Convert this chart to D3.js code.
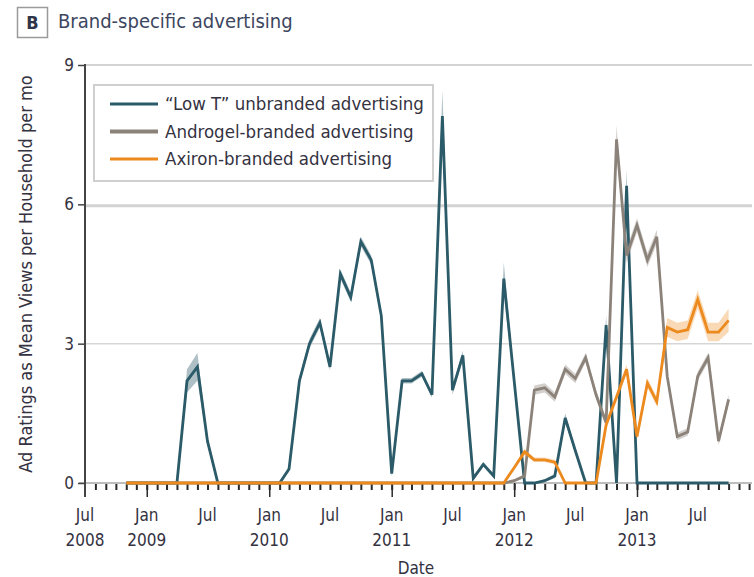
<!DOCTYPE html>
<html>
<head>
<meta charset="utf-8">
<script src="https://cdn.jsdelivr.net/npm/d3@7"></script>
<style>
  body { margin: 0; background: #fff; }
  svg text { font-family: "Liberation Sans Narrow", "DejaVu Sans Condensed", "Noto Sans", sans-serif; }
</style>
</head>
<body>
<div class="box"></div>
<script>
// months Nov 2008 .. Oct 2013 (60 points)
let months = d3.timeMonth.range(new Date(2008, 10, 1), new Date(2013, 10, 1))

// "Low T" unbranded advertising
let lowT = [
  0, 0,
  0, 0, 0, 0, 2.2, 2.5, 0.9, 0, 0, 0, 0, 0,
  0, 0, 0.3, 2.2, 3.0, 3.45, 2.5, 4.5, 4.0, 5.2, 4.8, 3.6,
  0.2, 2.2, 2.2, 2.35, 1.9, 7.9, 2.0, 2.75, 0.1, 0.4, 0.15, 4.4,
  2.2, 0, 0, 0.05, 0.15, 1.4, 0.7, 0, 0, 3.4, 0, 6.4,
  0, 0, 0, 0, 0, 0, 0, 0, 0, 0
]
let lowTci = [
  0, 0,
  0, 0, 0, 0, 0.25, 0.3, 0.08, 0, 0, 0, 0, 0,
  0, 0, 0.06, 0.08, 0.1, 0.1, 0.08, 0.1, 0.1, 0.1, 0.1, 0.1,
  0.06, 0.06, 0.06, 0.06, 0.06, 0.55, 0.1, 0.1, 0.05, 0.05, 0.05, 0.35,
  0.1, 0, 0, 0.03, 0.05, 0.1, 0.06, 0, 0, 0.2, 0, 0.35,
  0, 0, 0, 0, 0, 0, 0, 0, 0, 0
]

// Androgel-branded advertising
let androgel = [
  0, 0,
  0, 0, 0, 0, 0, 0, 0, 0, 0, 0, 0, 0,
  0, 0, 0, 0, 0, 0, 0, 0, 0, 0, 0, 0,
  0, 0, 0, 0, 0, 0, 0, 0, 0, 0, 0, 0,
  0.05, 0.15, 2.0, 2.05, 1.85, 2.45, 2.25, 2.7, 1.9, 1.3, 7.4, 4.9,
  5.55, 4.8, 5.3, 2.3, 1.0, 1.1, 2.3, 2.7, 0.9, 1.8
]
let androgelCi = [
  0, 0,
  0, 0, 0, 0, 0, 0, 0, 0, 0, 0, 0, 0,
  0, 0, 0, 0, 0, 0, 0, 0, 0, 0, 0, 0,
  0, 0, 0, 0, 0, 0, 0, 0, 0, 0, 0, 0,
  0.03, 0.05, 0.1, 0.1, 0.1, 0.1, 0.1, 0.1, 0.1, 0.1, 0.3, 0.15,
  0.15, 0.15, 0.15, 0.1, 0.08, 0.08, 0.1, 0.1, 0.08, 0.1
]

// Axiron-branded advertising
let axiron = [
  0, 0,
  0, 0, 0, 0, 0, 0, 0, 0, 0, 0, 0, 0,
  0, 0, 0, 0, 0, 0, 0, 0, 0, 0, 0, 0,
  0, 0, 0, 0, 0, 0, 0, 0, 0, 0, 0, 0,
  0.33, 0.67, 0.5, 0.5, 0.45, 0, 0, 0, 0, 1.25, 1.85, 2.45,
  1.0, 2.15, 1.75, 3.35, 3.25, 3.3, 3.95, 3.25, 3.25, 3.5
]
let axironCi = [
  0, 0,
  0, 0, 0, 0, 0, 0, 0, 0, 0, 0, 0, 0,
  0, 0, 0, 0, 0, 0, 0, 0, 0, 0, 0, 0,
  0, 0, 0, 0, 0, 0, 0, 0, 0, 0, 0, 0,
  0.04, 0.06, 0.05, 0.05, 0.05, 0, 0, 0, 0, 0.08, 0.08, 0.1,
  0.08, 0.1, 0.1, 0.2, 0.2, 0.2, 0.2, 0.2, 0.2, 0.25
]

let seriesNames = ['\u201CLow T\u201D unbranded advertising', 'Androgel-branded advertising', 'Axiron-branded advertising']
let seriesColors = ['#2b5a68', '#8b8279', '#ec8a1e']
let bandColors = ['#2b5a68', '#8b8279', '#f09a40']

let yTicks = [0, 3, 6, 9]
let xTickMonths = ['Jul', 'Jan', 'Jul', 'Jan', 'Jul', 'Jan', 'Jul', 'Jan', 'Jul', 'Jan', 'Jul']
let xTickYears = ['2008', '2009', '', '2010', '', '2011', '', '2012', '', '2013', '']

let textCol = '#34323f'

let svg = d3.select('.box').append('svg')
  .attr('width', 754)
  .attr('height', 577)

let x = d3.scaleTime()
  .domain([new Date(2008, 6, 1), new Date(2013, 0, 1)])
  .range([85, 637])
let y = d3.scaleLinear().domain([0, 9]).range([483, 65])

// title
svg.append('rect').attr('x', 17.5).attr('y', 7.5).attr('width', 30).attr('height', 30)
  .style('fill', '#fff').style('stroke', '#9a9a9a').style('stroke-width', 1.5)
svg.append('text').attr('x', 32.5).attr('y', 29).attr('text-anchor', 'middle')
  .style('font-size', '18px').style('font-weight', 'bold').style('fill', '#2f3548').text('B')
svg.append('text').attr('x', 58).attr('y', 28)
  .style('font-size', '20px').style('fill', '#3d4660').text('Brand-specific advertising')

// gridlines
let gridW = {3: 1.5, 6: 3, 9: 2}
svg.append('g').selectAll('line').data(yTicks.filter(d => d > 0)).join('line')
  .attr('x1', 85).attr('x2', 752)
  .attr('y1', d => y(d) + (d == 6 ? 1.5 : 0)).attr('y2', d => y(d) + (d == 6 ? 1.5 : 0))
  .style('stroke', d => d == 3 ? '#d6d6d6' : '#d3d3d3')
  .style('stroke-width', d => gridW[d])

// x axis baseline
svg.append('line').attr('x1', 79).attr('x2', 752).attr('y1', y(0)).attr('y2', y(0))
  .style('stroke', '#bdbdbd').style('stroke-width', 2)

// monthly ticks
let monthTicks = d3.timeMonth.range(new Date(2008, 7, 1), new Date(2014, 0, 1))
let xAxisMinor = d3.axisBottom(x).tickValues(monthTicks).tickSize(6).tickFormat('')
let gMinor = svg.append('g').attr('transform', `translate(0,${y(0) + 1})`).call(xAxisMinor)
gMinor.select('.domain').remove()
gMinor.selectAll('line').style('stroke', '#2a2a2a').style('stroke-width', 2)

// Jan ticks
let janTicks = d3.timeYear.range(new Date(2009, 0, 1), new Date(2014, 0, 1))
let xAxisMajor = d3.axisBottom(x).tickValues(janTicks).tickSize(14).tickFormat('')
let gMajor = svg.append('g').attr('transform', `translate(0,${y(0)})`).call(xAxisMajor)
gMajor.select('.domain').remove()
gMajor.selectAll('line').style('stroke', '#2a2a2a').style('stroke-width', 1.5)

// x tick labels
let labelDates = d3.timeMonth.every(6).range(new Date(2008, 6, 1), new Date(2013, 7, 1))
let xl = svg.append('g').selectAll('text').data(labelDates).join('text')
  .attr('x', d => x(d))
  .attr('y', 521)
  .attr('text-anchor', 'middle')
  .style('font-size', '17px').style('fill', textCol)
xl.append('tspan').attr('x', d => x(d)).text((d, i) => xTickMonths[i])
xl.append('tspan').attr('x', d => x(d)).attr('dy', 25).text((d, i) => xTickYears[i])

svg.append('text').attr('x', 416).attr('y', 574).attr('text-anchor', 'middle')
  .style('font-size', '17px').style('fill', textCol).text('Date')

// y axis
let yAxis = d3.axisLeft(y).tickValues(yTicks).tickSize(7).tickPadding(4)
let gy = svg.append('g').attr('transform', 'translate(85,0)').call(yAxis)
gy.select('.domain').remove()
gy.selectAll('line').style('stroke', '#444').style('stroke-width', 1.5)
gy.selectAll('text').style('font-size', '17px').style('fill', textCol)
  .style('font-family', '"Liberation Sans Narrow", "DejaVu Sans Condensed", sans-serif')
svg.append('line').attr('x1', 85).attr('x2', 85).attr('y1', y(9) - 1).attr('y2', 497)
  .style('stroke', '#444').style('stroke-width', 2)

svg.append('text')
  .attr('transform', `translate(32,${(y(0) + y(9)) / 2}) rotate(-90)`)
  .attr('text-anchor', 'middle')
  .style('font-size', '18px').style('fill', textCol)
  .text('Ad Ratings as Mean Views per Household per mo')

// series
let allSeries = [
  {vals: lowT, ci: lowTci},
  {vals: androgel, ci: androgelCi},
  {vals: axiron, ci: axironCi}
]

let area = (s) => d3.area()
  .x((d, i) => x(months[i]))
  .y0((d, i) => y(Math.max(0, d - s.ci[i])))
  .y1((d, i) => y(d + s.ci[i]))

let line = d3.line()
  .x((d, i) => x(months[i]))
  .y(d => y(d))

allSeries.forEach((s, k) => {
  svg.append('path').datum(s.vals)
    .attr('d', area(s))
    .style('fill', bandColors[k]).style('opacity', 0.38)
  svg.append('path').datum(s.vals)
    .attr('d', line)
    .style('fill', 'none')
    .style('stroke', seriesColors[k])
    .style('stroke-width', 2.8)
})

// legend
let lg = svg.append('g')
lg.append('rect').attr('x', 94).attr('y', 85).attr('width', 339).attr('height', 96)
  .style('fill', '#fff').style('stroke', '#cfcfcf').style('stroke-width', 2)
seriesNames.forEach((n, k) => {
  let ly = 104 + k * 27.5
  lg.append('line').attr('x1', 110).attr('x2', 158).attr('y1', ly).attr('y2', ly)
    .style('stroke', seriesColors[k]).style('stroke-width', k == 1 ? 4 : 3)
  lg.append('text').attr('x', 165).attr('y', ly + 6)
    .style('font-size', '18.5px').style('fill', textCol).text(n)
})
</script>
</body>
</html>
